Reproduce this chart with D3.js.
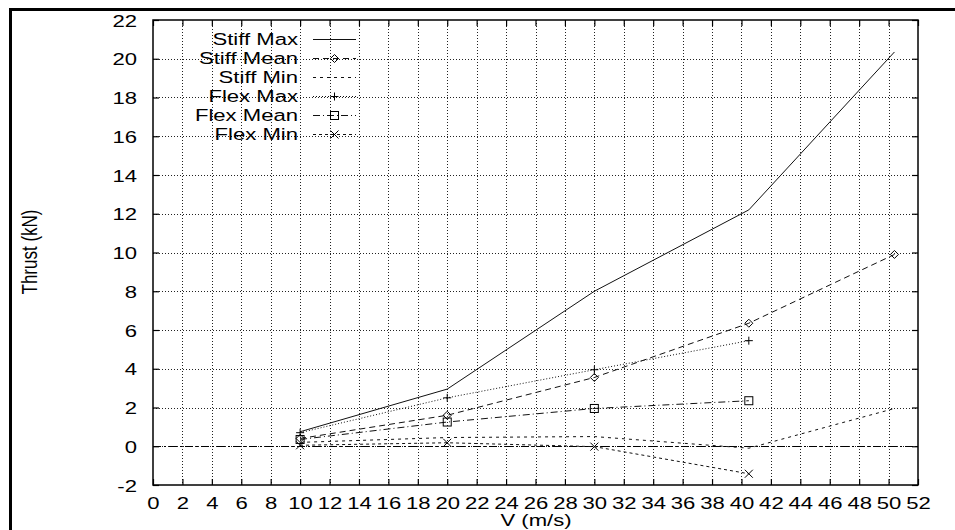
<!DOCTYPE html>
<html>
<head>
<meta charset="utf-8">
<script src="https://cdn.jsdelivr.net/npm/d3@7"></script>
<style>
  html, body { margin: 0; padding: 0; background: #fff; }
  svg { display: block; }
  text { font-family: "Liberation Sans", Arial, Helvetica, sans-serif; fill: #000; }
</style>
</head>
<body>
<svg id="chart" width="955" height="530"></svg>
<script>
// Thrust versus wind speed for stiff and flexible rotors
const stiffSpeeds = [10, 20, 30, 40.5, 50.4];
const flexSpeeds = [10, 20, 30, 40.5];
const stiffMax  = [0.75, 2.95, 8.0, 12.2, 20.35];
const stiffMean = [0.4, 1.6, 3.55, 6.35, 9.9];
const stiffMin  = [0.2, 0.45, 0.5, -0.1, 1.95];
const flexMax   = [0.7, 2.5, 3.95, 5.45];
const flexMean  = [0.35, 1.25, 1.95, 2.35];
const flexMin   = [0.05, 0.18, -0.02, -1.42];

const xTicks = d3.range(0, 53, 2);
const yTicks = d3.range(-2, 23, 2);
const seriesNames = ["Stiff Max", "Stiff Mean", "Stiff Min", "Flex Max", "Flex Mean", "Flex Min"];

const series = [
  { name: seriesNames[0], xs: stiffSpeeds, ys: stiffMax,  dash: null,       marker: null },
  { name: seriesNames[1], xs: stiffSpeeds, ys: stiffMean, dash: "6,4",      marker: "diamond" },
  { name: seriesNames[2], xs: stiffSpeeds, ys: stiffMin,  dash: "3,4",      marker: null },
  { name: seriesNames[3], xs: flexSpeeds,  ys: flexMax,   dash: "1,2",      marker: "plus" },
  { name: seriesNames[4], xs: flexSpeeds,  ys: flexMean,  dash: "7,3,1,3",  marker: "square" },
  { name: seriesNames[5], xs: flexSpeeds,  ys: flexMin,   dash: "3,3",      marker: "cross" }
];

const svg = d3.select("#chart");
const L = 153, R = 918, T = 20, B = 485;
const SX = 1.3;             // wide lettering
const FS = 17;
const fmt = d => String(d); // plain hyphen for negatives

const x = d3.scaleLinear().domain([0, 52]).range([L, R]);
const y = d3.scaleLinear().domain([-2, 22]).range([B, T]);

// outer frame (top and left edges)
svg.append("line").attr("x1", 10).attr("x2", 955).attr("y1", 9.5).attr("y2", 9.5)
  .attr("stroke", "#000").attr("stroke-width", 3);
svg.append("line").attr("x1", 10.5).attr("x2", 10.5).attr("y1", 8).attr("y2", 530)
  .attr("stroke", "#000").attr("stroke-width", 3);

// dotted grid
const grid = svg.append("g").attr("stroke", "#222").attr("stroke-width", 1)
  .attr("stroke-dasharray", "1,2");
grid.selectAll("line.v").data(xTicks.slice(1, -1)).join("line")
  .attr("x1", d => Math.round(x(d)) + 0.5).attr("x2", d => Math.round(x(d)) + 0.5)
  .attr("y1", T).attr("y2", B);
grid.selectAll("line.h").data(yTicks.slice(1, -1)).join("line")
  .attr("y1", d => Math.round(y(d)) + 0.5).attr("y2", d => Math.round(y(d)) + 0.5)
  .attr("x1", L).attr("x2", R);

// zero axis
svg.append("line").attr("x1", L).attr("x2", R)
  .attr("y1", Math.round(y(0)) + 0.5).attr("y2", Math.round(y(0)) + 0.5)
  .attr("stroke", "#000").attr("stroke-width", 1).attr("stroke-dasharray", "8,3,2,3");

// axes with inward ticks on all four sides
function styleAxis(g) {
  g.select(".domain").remove();
  g.selectAll(".tick line").attr("stroke", "#000").attr("stroke-width", 1.2);
}
const gB = svg.append("g").attr("transform", `translate(0,${B})`)
  .call(d3.axisBottom(x).tickValues(xTicks).tickSize(-6).tickFormat(fmt))
  .call(styleAxis);
gB.selectAll(".tick text")
  .attr("x", null).attr("y", null).attr("dy", null)
  .attr("transform", `translate(0,24) scale(${SX},1)`)
  .attr("text-anchor", "middle").attr("font-size", FS).attr("fill", "#000");

const gL = svg.append("g").attr("transform", `translate(${L},0)`)
  .call(d3.axisLeft(y).tickValues(yTicks).tickSize(-6).tickFormat(fmt))
  .call(styleAxis);
gL.selectAll(".tick text")
  .attr("x", null).attr("y", null).attr("dy", null)
  .attr("transform", `translate(-16,6) scale(${SX},1)`)
  .attr("text-anchor", "end").attr("font-size", FS).attr("fill", "#000");

svg.append("g").attr("transform", `translate(0,${T})`)
  .call(d3.axisTop(x).tickValues(xTicks).tickSize(-6).tickFormat(""))
  .call(styleAxis);
svg.append("g").attr("transform", `translate(${R},0)`)
  .call(d3.axisRight(y).tickValues(yTicks).tickSize(-6).tickFormat(""))
  .call(styleAxis);

// plot border
svg.append("rect").attr("x", L).attr("y", T).attr("width", R - L).attr("height", B - T)
  .attr("fill", "none").attr("stroke", "#000").attr("stroke-width", 1.5);

// markers
function drawMarker(g, type, cx, cy) {
  const s = 4;
  if (type === "diamond") {
    g.append("path").attr("d", `M${cx},${cy - s}L${cx + s},${cy}L${cx},${cy + s}L${cx - s},${cy}Z`)
      .attr("fill", "none").attr("stroke", "#000").attr("stroke-width", 1);
  } else if (type === "plus") {
    g.append("path").attr("d", `M${cx - s},${cy}H${cx + s}M${cx},${cy - s}V${cy + s}`)
      .attr("stroke", "#000").attr("stroke-width", 1);
  } else if (type === "square") {
    g.append("rect").attr("x", cx - s).attr("y", cy - s).attr("width", 2 * s).attr("height", 2 * s)
      .attr("fill", "none").attr("stroke", "#000").attr("stroke-width", 1);
  } else if (type === "cross") {
    g.append("path").attr("d", `M${cx - s},${cy - s}L${cx + s},${cy + s}M${cx - s},${cy + s}L${cx + s},${cy - s}`)
      .attr("stroke", "#000").attr("stroke-width", 1);
  }
}

const line = d3.line().x(d => x(d[0])).y(d => y(d[1]));
const plot = svg.append("g");
series.forEach(s => {
  const pts = s.xs.map((v, i) => [v, s.ys[i]]);
  plot.append("path").attr("d", line(pts)).attr("fill", "none")
    .attr("stroke", "#111").attr("stroke-width", 1)
    .attr("stroke-dasharray", s.dash);
  if (s.marker) pts.forEach(p => drawMarker(plot, s.marker, x(p[0]), y(p[1])));
});

// legend
const leg = svg.append("g");
series.forEach((s, i) => {
  const cy = 39 + i * 19;
  leg.append("text").attr("transform", `translate(298,${cy + 6}) scale(${SX},1)`)
    .attr("text-anchor", "end").attr("font-size", FS).text(s.name);
  leg.append("line").attr("x1", 313).attr("x2", 356).attr("y1", cy + 0.5).attr("y2", cy + 0.5)
    .attr("stroke", "#111").attr("stroke-width", 1).attr("stroke-dasharray", s.dash);
  if (s.marker) drawMarker(leg, s.marker, 334.5, cy + 0.5);
});

// axis titles
svg.append("text").attr("transform", `translate(536,526) scale(${SX},1)`)
  .attr("text-anchor", "middle").attr("font-size", FS).text("V (m/s)");
svg.append("text").attr("transform", `translate(37,252) scale(${SX},1) rotate(-90)`)
  .attr("text-anchor", "middle").attr("font-size", FS).text("Thrust (kN)");
</script>
</body>
</html>
